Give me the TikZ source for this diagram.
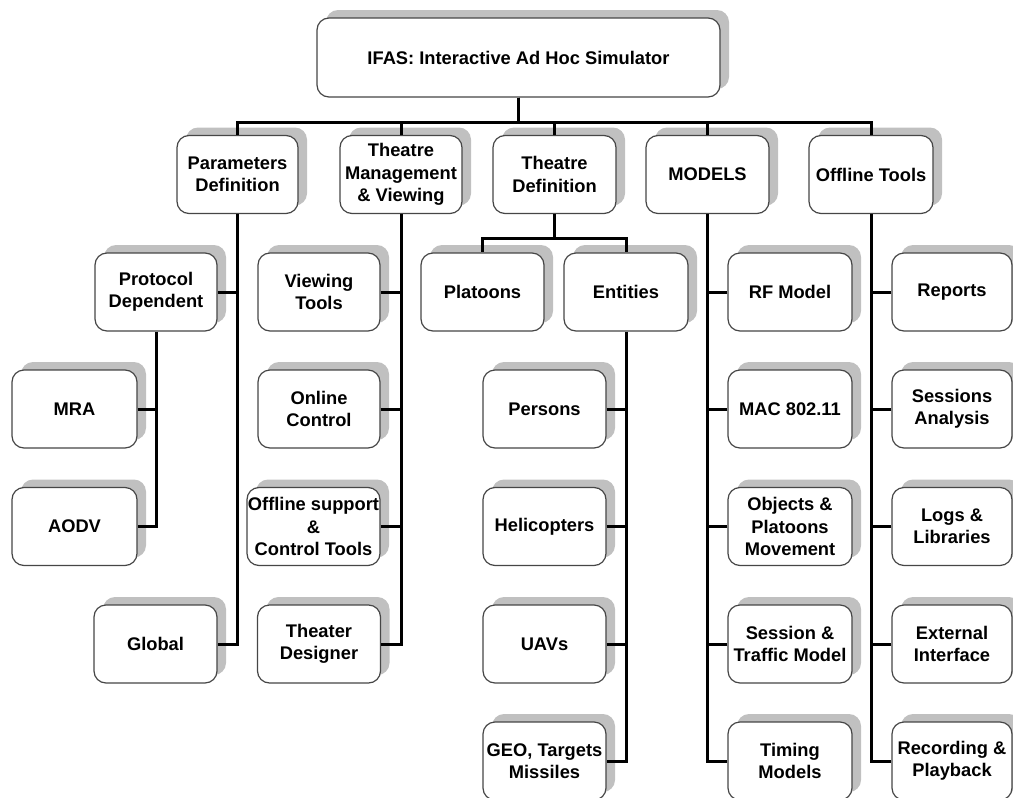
\documentclass[tikz,border=0pt]{standalone}
\usepackage{fontspec}
\setmainfont{Liberation Sans}
\usetikzlibrary{shadows}
\definecolor{shadowgray}{RGB}{192,192,192}
\definecolor{edgegray}{RGB}{70,70,70}
\begin{document}
\begin{tikzpicture}[x=1pt, y=-1pt, line join=miter]
 \tikzset{box/.style={draw=edgegray, line width=1.2pt, fill=white, rounded corners=12pt,
   minimum width=123pt, minimum height=78pt, inner sep=0pt, align=center,
   font=\fontsize{18.3}{22.5}\selectfont\bfseries,
   drop shadow={shadow xshift=9pt, shadow yshift=8pt, fill=shadowgray, opacity=1}},
   conn/.style={line width=3pt, black}}
 \useasboundingbox (0,0) rectangle (1013,798);
 % root and first level
 \node[box, minimum width=403pt, minimum height=79pt] (ifas) at (518.5,57.5) {IFAS: Interactive Ad Hoc Simulator};
 \node[box, minimum width=121pt] (pardef) at (237.5,174.5) {Parameters\\Definition};
 \node[box, minimum width=122pt] (thman) at (401,174.5) {Theatre\\Management\\\& Viewing};
 \node[box] (thdef) at (554.5,174.5) {Theatre\\Definition};
 \node[box] (models) at (707.5,174.5) {MODELS};
 \node[box, minimum width=124pt] (offtools) at (871,174.5) {Offline Tools};
 % parameters
 \node[box, minimum width=122pt] (protdep) at (156,292) {Protocol\\Dependent};
 \node[box, minimum width=125pt] (mra) at (74.5,409) {MRA};
 \node[box, minimum width=125pt] (aodv) at (74.5,526.5) {AODV};
 \node[box] (global) at (155.5,644) {Global};
 % theatre management
 \node[box, minimum width=122pt] (viewtools) at (319,292) {Viewing\\Tools};
 \node[box, minimum width=122pt] (onlctrl) at (319,409) {Online\\Control};
 \node[box, minimum width=133pt] (offsupp) at (313.5,526.5) {Offline support\\\&\\Control Tools};
 \node[box] (designer) at (319,644) {Theater\\Designer};
 % theatre definition
 \node[box] (platoons) at (482.5,292) {Platoons};
 \node[box, minimum width=124pt] (entities) at (626,292) {Entities};
 \node[box] (persons) at (544.5,409) {Persons};
 \node[box] (helis) at (544.5,526.5) {Helicopters};
 \node[box] (uavs) at (544.5,644) {UAVs};
 \node[box] (geo) at (544.5,761) {GEO, Targets\\Missiles};
 % models
 \node[box, minimum width=124pt] (rfmodel) at (790,292) {RF Model};
 \node[box, minimum width=124pt] (mac) at (790,409) {MAC 802.11};
 \node[box, minimum width=124pt] (objmove) at (790,526.5) {Objects \&\\Platoons\\Movement};
 \node[box, minimum width=124pt] (traffic) at (790,644) {Session \&\\Traffic Model};
 \node[box, minimum width=124pt] (timing) at (790,761) {Timing\\Models};
 % offline tools
 \node[box, minimum width=120pt] (reports) at (952,292) {Reports};
 \node[box, minimum width=120pt] (sessions) at (952,409) {Sessions\\Analysis};
 \node[box, minimum width=120pt] (logs) at (952,526.5) {Logs \&\\Libraries};
 \node[box, minimum width=120pt] (extif) at (952,644) {External\\Interface};
 \node[box, minimum width=120pt] (record) at (952,761) {Recording \&\\Playback};
 % connectors
 \foreach \n in {pardef,thman,thdef,models,offtools}
  \draw[conn] (ifas.south) -- ++(0,24.5) -| (\n.north);
 \draw[conn] (pardef.south) |- (global.east);
 \draw[conn] (protdep.east) -- (protdep.east -| pardef.south);
 \draw[conn] (protdep.south) |- (aodv.east);
 \draw[conn] (mra.east) -- (mra.east -| protdep.south);
 \draw[conn] (thman.south) |- (designer.east);
 \foreach \n in {viewtools,onlctrl,offsupp}
  \draw[conn] (\n.east) -- (\n.east -| thman.south);
 \draw[conn] (thdef.south) -- ++(0,24) -| (platoons.north);
 \draw[conn] (thdef.south) -- ++(0,24) -| (entities.north);
 \draw[conn] (entities.south) |- (geo.east);
 \foreach \n in {persons,helis,uavs}
  \draw[conn] (\n.east) -- (\n.east -| entities.south);
 \draw[conn] (models.south) |- (timing.west);
 \foreach \n in {rfmodel,mac,objmove,traffic}
  \draw[conn] (\n.west) -- (\n.west -| models.south);
 \draw[conn] (offtools.south) |- (record.west);
 \foreach \n in {reports,sessions,logs,extif}
  \draw[conn] (\n.west) -- (\n.west -| offtools.south);
\end{tikzpicture}
\end{document}
